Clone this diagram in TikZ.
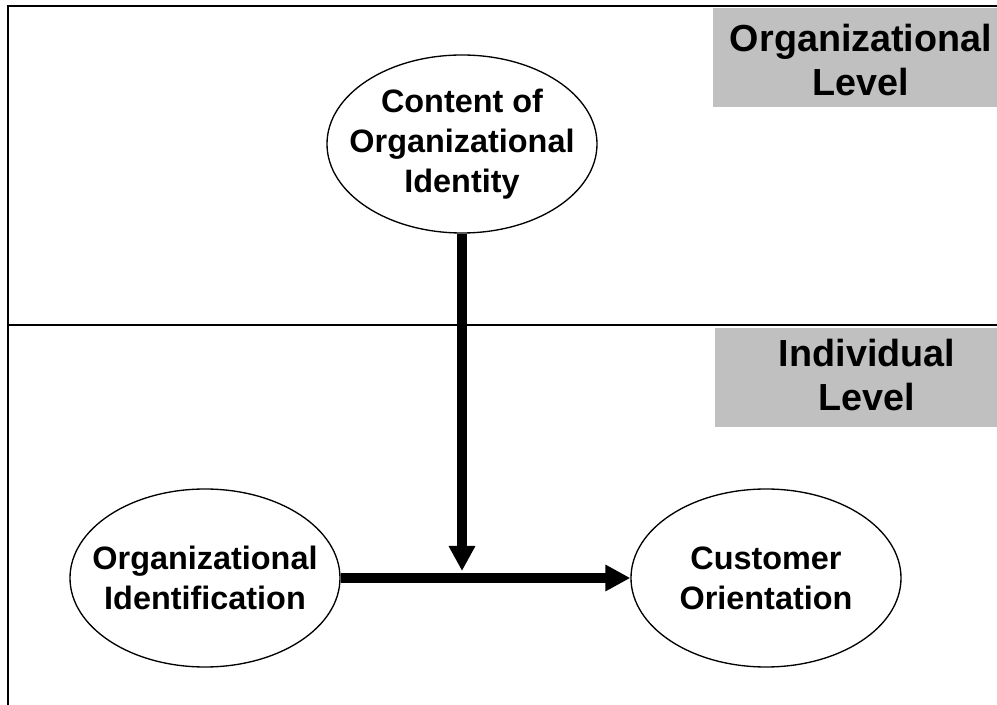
\documentclass[tikz,border=0pt]{standalone}
\usepackage{fontspec}
\setmainfont{Liberation Sans}
\usetikzlibrary{shapes.geometric,arrows.meta}
\definecolor{levelgray}{HTML}{C0C0C0}

\begin{document}
\begin{tikzpicture}[x=0.75pt,y=-0.75pt,
    oval/.style={draw,ellipse,line width=1pt,minimum width=202.5pt,minimum height=133.5pt,
        inner xsep=-13pt,inner ysep=0pt,align=center,font=\fontsize{24.3}{30}\selectfont\bfseries},
    leveltext/.style={align=center,inner sep=0pt,font=\fontsize{28.3}{33}\selectfont\bfseries},
    bigarrow/.style={line width=7.5pt,-{Triangle[length=18.75pt,width=18.75pt]}}]
            \useasboundingbox (0,0) rectangle (997,705);

            % Level boxes
            \fill[levelgray] (713,8) rectangle (997,107);
            \fill[levelgray] (715,328) rectangle (997,427);
            \node[leveltext] (orglevel) at (861,60) {Organizational\\Level};
            \node[leveltext] (indlevel) at (867,375) {Individual\\Level};

            % Frame and level divider
            \draw[line width=1.5pt] (997,6) -- (8,6) -- (8,705);
            \draw[line width=1.2pt] (8,325) -- (997,325);

            % Constructs
            \node[oval] (ci) at (462,144) {Content of\\Organizational\\Identity};
            \node[oval] (oi) at (205,578) {Organizational\\Identification};
            \node[oval] (co) at (766,578) {Customer\\Orientation};

            % Paths
            \coordinate (meet) at (462,571);
            \draw[bigarrow] (oi.east) -- (co.west);
            \draw[bigarrow] (ci.south) -- (meet);

        \end{tikzpicture}
\end{document}
